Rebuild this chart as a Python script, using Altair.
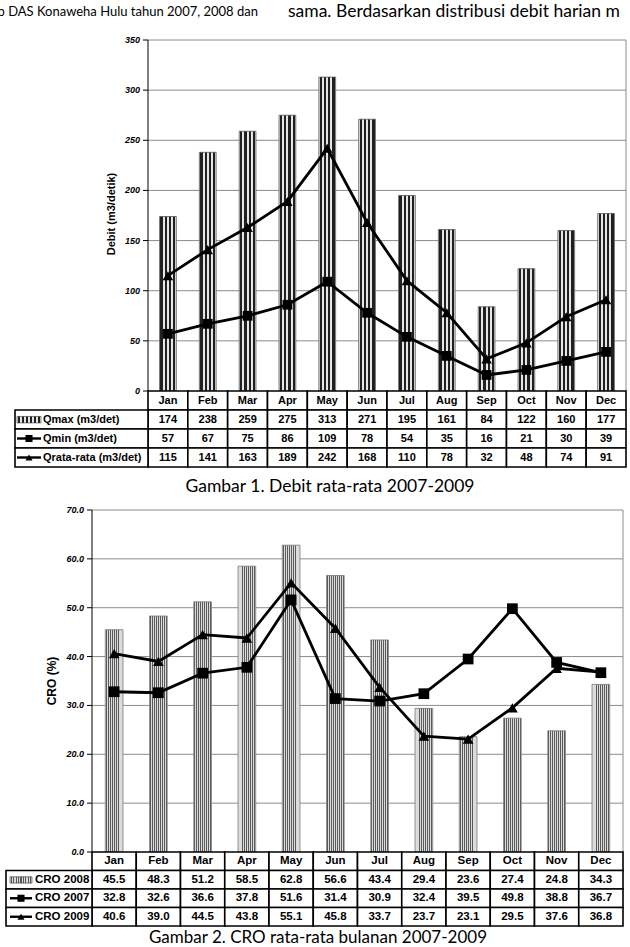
import altair as alt
import pandas as pd

# ---------------- data ----------------
months = ["Jan", "Feb", "Mar", "Apr", "May", "Jun", "Jul", "Aug", "Sep", "Oct", "Nov", "Dec"]
qmax = [174, 238, 259, 275, 313, 271, 195, 161, 84, 122, 160, 177]
qmin = [57, 67, 75, 86, 109, 78, 54, 35, 16, 21, 30, 39]
qrata = [115, 141, 163, 189, 242, 168, 110, 78, 32, 48, 74, 91]
fig1_rows = ["Qmax (m3/det)", "Qmin (m3/det)", "Qrata-rata (m3/det)"]
fig1_ticks = [0, 50, 100, 150, 200, 250, 300, 350]

cro2008 = [45.5, 48.3, 51.2, 58.5, 62.8, 56.6, 43.4, 29.4, 23.6, 27.4, 24.8, 34.3]
cro2007 = [32.8, 32.6, 36.6, 37.8, 51.6, 31.4, 30.9, 32.4, 39.5, 49.8, 38.8, 36.7]
cro2009 = [40.6, 39.0, 44.5, 43.8, 55.1, 45.8, 33.7, 23.7, 23.1, 29.5, 37.6, 36.8]
fig2_rows = ["CRO 2008", "CRO 2007", "CRO 2009"]
fig2_ticks = [0, 10, 20, 30, 40, 50, 60, 70]

top_left_text = "Sub DAS Konaweha Hulu tahun 2007, 2008 dan"
top_right_text = "sama.  Berdasarkan distribusi debit harian m"
caption1 = "Gambar 1. Debit rata-rata 2007-2009"
caption2 = "Gambar 2. CRO rata-rata bulanan 2007-2009"

TFONT = "Liberation Sans"
CFONT = "Lato"


def lin(domain, rng):
    return alt.Scale(domain=domain, range=rng, nice=False, zero=False)


def stripes(n, dark, light, duty):
    stops = []
    for k in range(n):
        a = k / n
        l1 = a + (1 - duty) / (2 * n)
        l2 = a + (1 + duty) / (2 * n)
        b = (k + 1) / n
        for off, col in [(a, light), (l1, light), (l1, dark), (l2, dark), (l2, light), (b, light)]:
            stops.append(alt.GradientStop(color=col, offset=round(min(off, 1.0), 4)))
    return alt.Gradient(gradient="linear", stops=stops, x1=0, x2=1, y1=0, y2=0)


def text_layer(txt, x, y, size, font=TFONT, weight="normal", angle=0, align="center", style="normal"):
    return alt.Chart(pd.DataFrame({"t": [txt]})).mark_text(
        font=font, fontSize=size, fontWeight=weight, angle=angle, align=align,
        baseline="middle", fontStyle=style, color="black"
    ).encode(text="t:N", x=alt.value(x), y=alt.value(y))


def figure(cfg):
    layers = []
    xs = lin([0, 12], [cfg["x0"], cfg["x1"]])
    ys = lin([0, cfg["ymax"]], [cfg["y0"], cfg["ytop"]])
    rs = lin([0, 4], [cfg["y0"], cfg["tb"]])
    ticks = pd.DataFrame({"v": cfg["ticks"], "lab": cfg["labels"]})

    # gridlines
    layers.append(alt.Chart(ticks[ticks.v > 0]).mark_rule(color="#8c8c8c", strokeWidth=1).encode(
        y=alt.Y("v:Q", scale=ys, axis=None), x=alt.value(cfg["x0"]), x2=alt.value(cfg["x1"])))
    # right border
    layers.append(alt.Chart(pd.DataFrame({"a": [0], "b": [cfg["ymax"]]})).mark_rule(
        color="#8c8c8c", strokeWidth=1).encode(
        y=alt.Y("a:Q", scale=ys, axis=None), y2="b:Q", x=alt.value(cfg["x1"])))

    df = pd.DataFrame({"i": list(range(12)), "bar": cfg["bar"], "l1": cfg["sq"], "l2": cfg["tri"]})
    hw = cfg["bw"] / 2
    # bars
    layers.append(alt.Chart(df).transform_calculate(
        a=f"datum.i + {0.5 - hw}", b=f"datum.i + {0.5 + hw}", z="0").mark_rect(
        fill=cfg["fill"], stroke=cfg["bstroke"], strokeWidth=0.8).encode(
        x=alt.X("a:Q", scale=xs, axis=None), x2="b:Q",
        y=alt.Y("bar:Q", scale=ys, axis=None), y2="z:Q"))
    # lines
    for fld, shape, size in [("l1", "square", cfg["sqsize"]), ("l2", "triangle-up", cfg["trisize"])]:
        base = alt.Chart(df).transform_calculate(c="datum.i + 0.5")
        layers.append(base.mark_line(color="black", strokeWidth=2.8).encode(
            x=alt.X("c:Q", scale=xs, axis=None), y=alt.Y(f"{fld}:Q", scale=ys, axis=None)))
        layers.append(base.mark_point(shape=shape, filled=True, size=size, color="black", opacity=1).encode(
            x=alt.X("c:Q", scale=xs, axis=None), y=alt.Y(f"{fld}:Q", scale=ys, axis=None)))

    # y axis line, ticks, labels
    layers.append(alt.Chart(pd.DataFrame({"a": [0], "b": [cfg["ymax"]]})).mark_rule(
        color="black", strokeWidth=1).encode(
        y=alt.Y("a:Q", scale=ys, axis=None), y2="b:Q", x=alt.value(cfg["x0"])))
    layers.append(alt.Chart(ticks).mark_rule(color="black", strokeWidth=1).encode(
        y=alt.Y("v:Q", scale=ys, axis=None), x=alt.value(cfg["x0"] - 5), x2=alt.value(cfg["x0"])))
    layers.append(alt.Chart(ticks).mark_text(
        font=TFONT, fontSize=9, fontWeight="bold", fontStyle="italic", align="right",
        baseline="middle", color="black").encode(
        y=alt.Y("v:Q", scale=ys, axis=None), x=alt.value(cfg["x0"] - 8), text="lab:N"))
    layers.append(text_layer(cfg["ytitle"], cfg["ytx"], cfg["yty"], cfg["ytsize"], weight="bold", angle=270))

    # table
    rows = []
    for i, m in enumerate(months):
        rows.append({"r": 0, "i": i, "t": m})
    for r, series in enumerate(cfg["table"], start=1):
        for i, v in enumerate(series):
            rows.append({"r": r, "i": i, "t": cfg["fmt"](v)})
    tdf = pd.DataFrame(rows)
    layers.append(alt.Chart(tdf).transform_calculate(
        i2="datum.i + 1", r2="datum.r + 1").mark_rect(
        fill="white", stroke="black", strokeWidth=1.6).encode(
        x=alt.X("i:Q", scale=xs, axis=None), x2="i2:Q",
        y=alt.Y("r:Q", scale=rs, axis=None), y2="r2:Q"))
    layers.append(alt.Chart(tdf).transform_calculate(
        ic="datum.i + 0.5", rc="datum.r + 0.5").mark_text(
        font=TFONT, fontSize=cfg["tsize"], fontWeight="bold", baseline="middle", color="black").encode(
        x=alt.X("ic:Q", scale=xs, axis=None), y=alt.Y("rc:Q", scale=rs, axis=None), text="t:N"))

    # legend column
    ldf = pd.DataFrame({"r": [1, 2, 3], "lab": cfg["rows"]})
    layers.append(alt.Chart(ldf).transform_calculate(r2="datum.r + 1").mark_rect(
        fill="white", stroke="black", strokeWidth=1.6).encode(
        x=alt.value(cfg["lx"]), x2=alt.value(cfg["x0"]),
        y=alt.Y("r:Q", scale=rs, axis=None), y2="r2:Q"))
    layers.append(alt.Chart(ldf).transform_calculate(rc="datum.r + 0.5").mark_text(
        font=TFONT, fontSize=cfg["lsize"], fontWeight="bold", align="left", baseline="middle",
        color="black").encode(
        x=alt.value(cfg["ltx"]), y=alt.Y("rc:Q", scale=rs, axis=None), text="lab:N"))
    # legend symbols
    s0, s1 = cfg["sx"]
    sm = (s0 + s1) / 2
    layers.append(alt.Chart(ldf[ldf.r == 1]).transform_calculate(
        ra="datum.r + 0.34", rb="datum.r + 0.68").mark_rect(
        fill=cfg["lfill"], stroke="#333", strokeWidth=0.6).encode(
        x=alt.value(s0), x2=alt.value(s1),
        y=alt.Y("ra:Q", scale=rs, axis=None), y2="rb:Q"))
    ln = ldf[ldf.r > 1].assign(shape=["square", "triangle-up"])
    layers.append(alt.Chart(ln).transform_calculate(rc="datum.r + 0.5").mark_rule(
        color="black", strokeWidth=2.4).encode(
        x=alt.value(s0), x2=alt.value(s1), y=alt.Y("rc:Q", scale=rs, axis=None)))
    layers.append(alt.Chart(ln).transform_calculate(rc="datum.r + 0.5").mark_point(
        filled=True, size=50, color="black", opacity=1).encode(
        x=alt.value(sm), y=alt.Y("rc:Q", scale=rs, axis=None),
        shape=alt.Shape("shape:N", scale=alt.Scale(domain=["square", "triangle-up"],
                                                   range=["square", "triangle-up"]), legend=None)))
    return layers


fig1 = dict(
    x0=148, x1=626, y0=391, ytop=40, tb=467, ymax=350,
    ticks=fig1_ticks, labels=[str(v) for v in fig1_ticks],
    bar=qmax, sq=qmin, tri=qrata, bw=0.42, sqsize=95, trisize=110,
    fill=stripes(4, "#202020", "#e6e6e6", 0.55), bstroke="#555",
    lfill=stripes(6, "#202020", "#e6e6e6", 0.55),
    ytitle="Debit (m3/detik)", ytx=112, yty=214, ytsize=11,
    table=[qmax, qmin, qrata], fmt=lambda v: str(v), tsize=11,
    rows=fig1_rows, lx=15, ltx=43, lsize=11, sx=(17, 41),
)
fig2 = dict(
    x0=92, x1=623, y0=852, ytop=510, tb=926, ymax=70,
    ticks=fig2_ticks, labels=[f"{v:.1f}" for v in fig2_ticks],
    bar=cro2008, sq=cro2007, tri=cro2009, bw=0.40, sqsize=115, trisize=115,
    fill=stripes(9, "#5a5a5a", "#dcdcdc", 0.45), bstroke="#777",
    lfill=stripes(9, "#5a5a5a", "#dcdcdc", 0.45),
    ytitle="CRO (%)", ytx=52, yty=681, ytsize=12,
    table=[cro2008, cro2007, cro2009], fmt=lambda v: f"{v:.1f}", tsize=11.5,
    rows=fig2_rows, lx=6, ltx=35, lsize=11.5, sx=(10, 32),
)

layers = []
layers.append(text_layer(top_left_text, 258, 12, 13, font=CFONT, align="right"))
layers.append(text_layer(top_right_text, 288, 12, 17.5, font=CFONT, align="left"))
layers += figure(fig1)
layers.append(text_layer(caption1, 330, 487, 17.5, font=CFONT))
layers += figure(fig2)
layers.append(text_layer(caption2, 318, 938, 17, font=CFONT))

chart = alt.layer(*layers).resolve_scale(
    x="independent", y="independent", shape="independent"
).properties(
    width=630, height=947, autosize=alt.AutoSizeParams(type="none"), padding=0,
    background="white"
).configure_view(strokeWidth=0)

chart.save("out.html", embed_options={"renderer": "svg", "actions": False})
